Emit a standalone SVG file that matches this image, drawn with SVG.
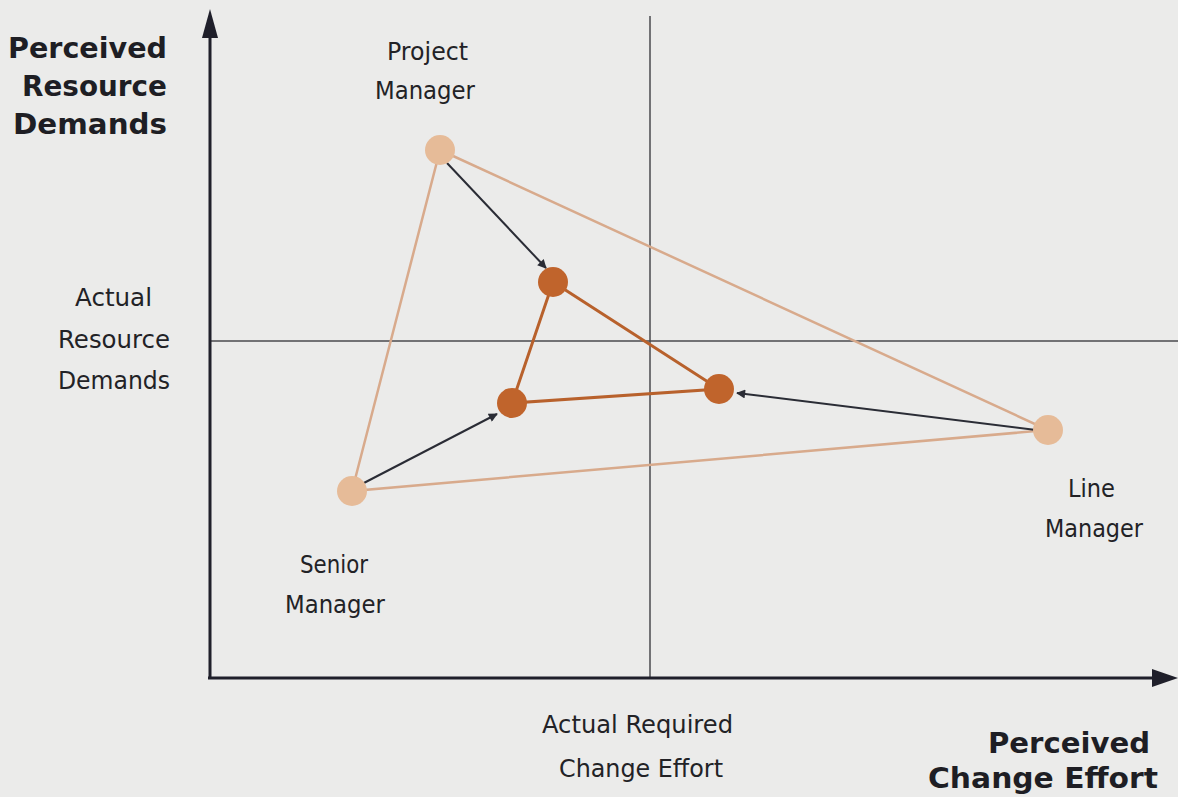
<svg xmlns="http://www.w3.org/2000/svg" width="1178" height="797" viewBox="0 0 1178 797">
<style>
.lbl{font-family:"DejaVu Sans","Liberation Sans",sans-serif;font-size:24px;fill:#222226}
.ttl{font-family:"DejaVu Sans","Liberation Sans",sans-serif;font-size:28px;font-weight:bold;fill:#1e1e24}
.axis{stroke:#1f1f2a;stroke-width:3;fill:none}
.ref{stroke:#4a4a4e;stroke-width:1.5;fill:none}
.outer{stroke:#d8aa8c;stroke-width:2.5;fill:none}
.inner{stroke:#b8612c;stroke-width:3;fill:none}
.arr{stroke:#2a2c35;stroke-width:2;fill:none}
.light{fill:#e6bb98}
.dark{fill:#c0642c}
</style>
<defs>
<marker id="ah" viewBox="0 0 10 10" refX="9" refY="5" markerWidth="11" markerHeight="9" markerUnits="userSpaceOnUse" orient="auto">
<path d="M0,0 L10,5 L0,10 z" fill="#2a2c35"/>
</marker>
</defs>
<rect width="1178" height="797" fill="#ebebea"/>
<g id="axes">
<line class="ref" x1="650" y1="16" x2="650" y2="678"/>
<line class="ref" x1="210" y1="341" x2="1178" y2="341"/>
<line class="axis" x1="210" y1="678" x2="210" y2="36"/>
<path d="M210,9 L202,38 L218,38 z" fill="#1f1f2a"/>
<line class="axis" x1="208" y1="678" x2="1152" y2="678"/>
<path d="M1178,678 L1152,669 L1152,687 z" fill="#1f1f2a"/>
</g>
<g id="connectors">
<polygon class="outer" points="440,150 1048,430 352,491"/>
<polygon class="inner" points="553,282 719,389 512,403"/>
<line class="arr" x1="447" y1="163" x2="546" y2="268" marker-end="url(#ah)"/>
<line class="arr" x1="360" y1="485" x2="497" y2="414" marker-end="url(#ah)"/>
<line class="arr" x1="1036" y1="430" x2="737" y2="393" marker-end="url(#ah)"/>
</g>
<g id="project-manager"><circle class="light" cx="440" cy="150" r="15"/></g>
<g id="senior-manager"><circle class="light" cx="352" cy="491" r="15"/></g>
<g id="line-manager"><circle class="light" cx="1048" cy="430" r="15"/></g>
<g id="pm-actual"><circle class="dark" cx="553" cy="282" r="15"/></g>
<g id="sm-actual"><circle class="dark" cx="512" cy="403" r="15"/></g>
<g id="lm-actual"><circle class="dark" cx="719" cy="389" r="15"/></g>
<g id="labels">
<text class="ttl" x="8" y="58" textLength="159" lengthAdjust="spacingAndGlyphs">Perceived</text>
<text class="ttl" x="22" y="96" textLength="145" lengthAdjust="spacingAndGlyphs">Resource</text>
<text class="ttl" x="13" y="134" textLength="154" lengthAdjust="spacingAndGlyphs">Demands</text>
<text class="lbl" x="387" y="60" textLength="81" lengthAdjust="spacingAndGlyphs">Project</text>
<text class="lbl" x="375" y="99" textLength="100" lengthAdjust="spacingAndGlyphs">Manager</text>
<text class="lbl" x="75" y="306" textLength="77" lengthAdjust="spacingAndGlyphs">Actual</text>
<text class="lbl" x="58" y="348" textLength="112" lengthAdjust="spacingAndGlyphs">Resource</text>
<text class="lbl" x="58" y="389" textLength="112" lengthAdjust="spacingAndGlyphs">Demands</text>
<text class="lbl" x="300" y="573" textLength="68" lengthAdjust="spacingAndGlyphs">Senior</text>
<text class="lbl" x="285" y="613" textLength="100" lengthAdjust="spacingAndGlyphs">Manager</text>
<text class="lbl" x="1068" y="497" textLength="47" lengthAdjust="spacingAndGlyphs">Line</text>
<text class="lbl" x="1045" y="537" textLength="98" lengthAdjust="spacingAndGlyphs">Manager</text>
<text class="lbl" x="542" y="733" textLength="191" lengthAdjust="spacingAndGlyphs">Actual Required</text>
<text class="lbl" x="559" y="777" textLength="164" lengthAdjust="spacingAndGlyphs">Change Effort</text>
<text class="ttl" x="988" y="753" textLength="162" lengthAdjust="spacingAndGlyphs">Perceived</text>
<text class="ttl" x="928" y="788" textLength="230" lengthAdjust="spacingAndGlyphs">Change Effort</text>
</g>
</svg>
